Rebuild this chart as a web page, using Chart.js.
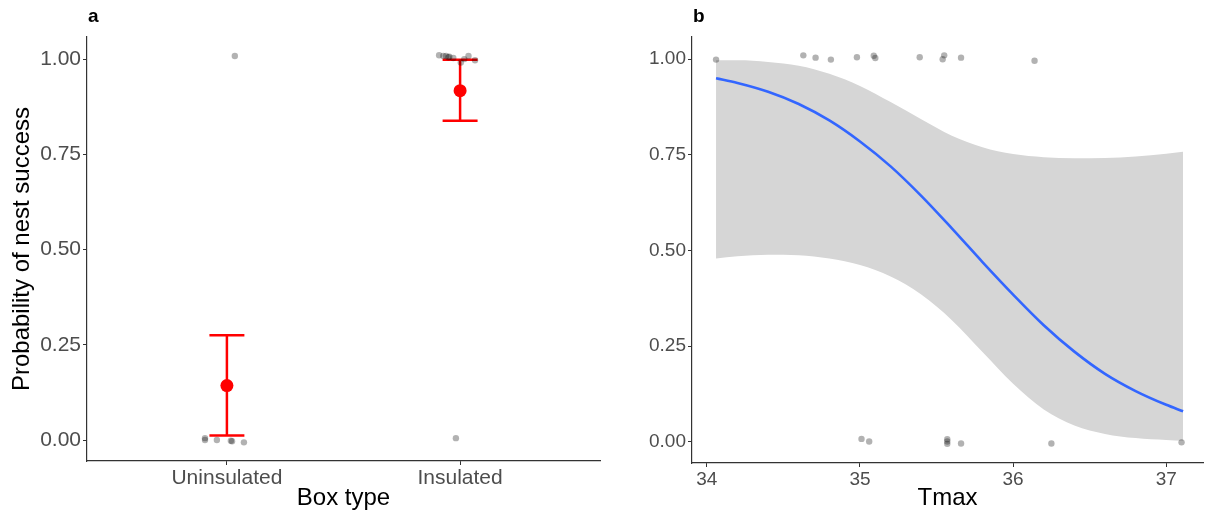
<!DOCTYPE html>
<html>
<head>
<meta charset="utf-8">
<script src="https://cdn.jsdelivr.net/npm/chart.js@4.4.1/dist/chart.umd.min.js"></script>
<style>
  html, body { margin: 0; padding: 0; background: #fff; }
  #wrap { position: relative; width: 1207px; height: 518px; }
  #boxA { position: absolute; left: 0; top: 0; width: 615px; height: 518px; }
  #boxB { position: absolute; left: 615px; top: 0; width: 592px; height: 518px; }
</style>
</head>
<body>
<div id="wrap">
  <div id="boxA"><canvas id="chartA" width="615" height="518"></canvas></div>
  <div id="boxB"><canvas id="chartB" width="592" height="518"></canvas></div>
</div>
<script>
// ---- Panel a: success by box type ----
const boxTypes = ["Uninsulated", "Insulated"];
const meanProb = [0.143, 0.917];
const ciLow = [0.012, 0.838];
const ciHigh = [0.275, 0.998];
// raw nests (jittered position, outcome)
const nestPosA = [-0.094, -0.094, -0.043, 0.017, 0.022, 0.073, 0.034,
  0.982, 0.91, 0.928, 0.94, 0.954, 0.971, 1.003, 1.018, 1.036, 1.064, 0.95];
const nestOutA = [0.005, 0.0, 0.0, -0.002, -0.003, -0.006, 1.008,
  0.005, 1.010, 1.008, 1.008, 1.006, 1.003, 0.991, 1.0, 1.008, 0.997, 1.005];

// ---- Panel b: success by Tmax ----
const tmaxNest = [34.06, 34.63, 34.71, 34.81, 34.98, 35.09, 35.10, 35.39, 35.55, 35.54, 35.66, 36.14,
  35.01, 35.06, 35.57, 35.57, 35.57, 35.66, 36.25, 37.10];
const outNest = [0.999, 1.01, 1.004, 0.999, 1.005, 1.009, 1.003, 1.005, 1.01, 1.0, 1.004, 0.996,
  0.008, 0.001, 0.007, 0.001, -0.005, -0.004, -0.004, -0.001];
const tmaxFit = [34.06, 34.2, 34.4, 34.6, 34.8, 35.0, 35.2, 35.4, 35.6, 35.8, 36.0, 36.2, 36.4, 36.6, 36.8, 37.0, 37.11];
const fitProb = [0.95, 0.938, 0.915, 0.883, 0.84, 0.785, 0.72, 0.643, 0.558, 0.47, 0.385, 0.305, 0.236, 0.178, 0.133, 0.097, 0.08];
const fitUpper = [0.997, 0.997, 0.993, 0.983, 0.962, 0.93, 0.888, 0.843, 0.80, 0.77, 0.752, 0.744, 0.741, 0.742, 0.746, 0.753, 0.758];
const fitLower = [0.479, 0.485, 0.489, 0.488, 0.479, 0.462, 0.432, 0.385, 0.318, 0.235, 0.152, 0.085, 0.043, 0.021, 0.01, 0.005, 0.003];

const yTicks = [0, 0.25, 0.5, 0.75, 1];
const tmaxTicks = [34, 35, 36, 37];

const FONT = "'Liberation Sans', Arial, sans-serif";
Chart.defaults.font.family = FONT;
Chart.defaults.animation = false;

const pointGrey = "rgba(0,0,0,0.3)";

// panel letter
const panelLabel = {
  id: "panelLabel",
  afterDraw(chart, args, opts) {
    const ctx = chart.ctx;
    ctx.save();
    ctx.font = "bold 19px " + FONT;
    ctx.fillStyle = "#000";
    ctx.textBaseline = "middle";
    ctx.fillText(opts.text, chart.chartArea.left + 1, 17);
    ctx.restore();
  }
};

// error bars drawn through the scales
const errorBars = {
  id: "errorBars",
  beforeDatasetsDraw(chart) {
    const { ctx, scales: { x, y } } = chart;
    ctx.save();
    ctx.strokeStyle = "#ff0000";
    ctx.lineWidth = 2.5;
    boxTypes.forEach((b, i) => {
      const cx = x.getPixelForValue(i);
      const x0 = x.getPixelForValue(i - 0.075);
      const x1 = x.getPixelForValue(i + 0.075);
      const yl = y.getPixelForValue(ciLow[i]);
      const yh = y.getPixelForValue(ciHigh[i]);
      ctx.beginPath();
      ctx.moveTo(cx, yl); ctx.lineTo(cx, yh);
      ctx.moveTo(x0, yl); ctx.lineTo(x1, yl);
      ctx.moveTo(x0, yh); ctx.lineTo(x1, yh);
      ctx.stroke();
    });
    ctx.restore();
  }
};

function yAxis(width, fontSize, title) {
  return {
    type: "linear",
    min: -0.055,
    max: 1.058,
    afterBuildTicks: (s) => { s.ticks = yTicks.map(v => ({ value: v })); },
    afterFit: (s) => { s.width = width; },
    border: { display: true, color: "#333", width: 1.2 },
    grid: { display: true, drawOnChartArea: false, drawTicks: true, tickLength: 4, color: "#333" },
    ticks: {
      color: "#4d4d4d",
      padding: 2,
      font: { size: fontSize },
      callback: (v) => v.toFixed(2)
    },
    title: title ? {
      display: true,
      text: title,
      color: "#000",
      font: { size: 24 },
      padding: { top: 8, bottom: 4 }
    } : { display: false }
  };
}

new Chart(document.getElementById("chartA"), {
  type: "scatter",
  data: {
    datasets: [
      {
        data: nestPosA.map((p, i) => ({ x: p, y: nestOutA[i] })),
        backgroundColor: pointGrey,
        borderWidth: 0,
        pointRadius: 3.2
      },
      {
        data: meanProb.map((m, i) => ({ x: i, y: m })),
        backgroundColor: "#ff0000",
        borderWidth: 0,
        pointRadius: 6.5
      }
    ]
  },
  options: {
    responsive: false,
    layout: { padding: { top: 37, right: 15, left: 0, bottom: 0 } },
    plugins: {
      legend: { display: false },
      tooltip: { enabled: false },
      panelLabel: { text: "a" }
    },
    scales: {
      x: {
        type: "linear",
        min: -0.6,
        max: 1.6,
        afterBuildTicks: (s) => { s.ticks = boxTypes.map((b, i) => ({ value: i })); },
        afterFit: (s) => { s.height = 57; },
        border: { display: true, color: "#333", width: 1.2 },
        grid: { display: true, drawOnChartArea: false, drawTicks: true, tickLength: 4, color: "#333" },
        ticks: {
          color: "#4d4d4d",
          padding: 1,
          maxRotation: 0,
          font: { size: 21 },
          callback: (v) => boxTypes[v]
        },
        title: {
          display: true,
          text: "Box type",
          color: "#000",
          font: { size: 24 },
          padding: { top: 0, bottom: 5 }
        }
      },
      y: yAxis(87, 21, "Probability of nest success")
    }
  },
  plugins: [panelLabel, errorBars]
});

new Chart(document.getElementById("chartB"), {
  type: "scatter",
  data: {
    datasets: [
      {
        type: "line",
        order: 3,
        data: tmaxFit.map((t, i) => ({ x: t, y: fitUpper[i] })),
        borderWidth: 0,
        pointRadius: 0,
        fill: false,
        cubicInterpolationMode: "monotone"
      },
      {
        type: "line",
        order: 2,
        data: tmaxFit.map((t, i) => ({ x: t, y: fitLower[i] })),
        borderWidth: 0,
        borderColor: "rgba(0,0,0,0)",
        pointRadius: 0,
        backgroundColor: "#d6d6d6",
        fill: "-1",
        cubicInterpolationMode: "monotone"
      },
      {
        type: "line",
        order: 1,
        data: tmaxFit.map((t, i) => ({ x: t, y: fitProb[i] })),
        borderColor: "#3366ff",
        borderWidth: 2.6,
        pointRadius: 0,
        fill: false,
        cubicInterpolationMode: "monotone"
      },
      {
        order: 0,
        data: tmaxNest.map((t, i) => ({ x: t, y: outNest[i] })),
        backgroundColor: pointGrey,
        borderWidth: 0,
        pointRadius: 3.2
      }
    ]
  },
  options: {
    responsive: false,
    layout: { padding: { top: 37, right: 0, left: 0, bottom: 0 } },
    plugins: {
      legend: { display: false },
      tooltip: { enabled: false },
      filler: { propagate: false },
      panelLabel: { text: "b" }
    },
    scales: {
      x: {
        type: "linear",
        min: 33.903,
        max: 37.24,
        afterBuildTicks: (s) => { s.ticks = tmaxTicks.map(v => ({ value: v })); },
        afterFit: (s) => { s.height = 55; },
        border: { display: true, color: "#333", width: 1.2 },
        grid: { display: true, drawOnChartArea: false, drawTicks: true, tickLength: 4, color: "#333" },
        ticks: {
          color: "#4d4d4d",
          padding: 1,
          maxRotation: 0,
          font: { size: 19 },
          callback: (v) => String(v)
        },
        title: {
          display: true,
          text: "Tmax",
          color: "#000",
          font: { size: 24 },
          padding: { top: 0, bottom: 5 }
        }
      },
      y: yAxis(77, 19, null)
    }
  },
  plugins: [panelLabel]
});
</script>
</body>
</html>
